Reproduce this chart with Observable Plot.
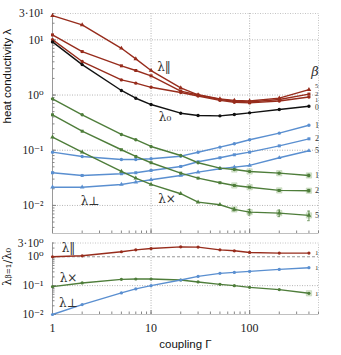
<!DOCTYPE html>
<html><head><meta charset="utf-8">
<script src="https://cdn.jsdelivr.net/npm/d3@7"></script>
<script src="https://cdn.jsdelivr.net/npm/@observablehq/plot@0.6"></script>
<style>
body{margin:0;background:#fff}
#chart{width:341px;height:355px;overflow:hidden}
#chart svg{display:block}
</style>
</head><body><div id="chart"></div>
<script>
// ---- data ----
const gamma = [1, 2, 5, 7, 10, 20, 30, 50, 70, 100, 200, 400];

const lambda0 = [9.18, 3.56, 1.21, 0.875, 0.673, 0.469, 0.426, 0.420, 0.444, 0.476, 0.547, 0.627];

const parB1 = [10.1, 4.04, 1.88, 1.64, 1.38, 1.11, 0.96, 0.80, 0.74, 0.72, 0.78, 0.92];
const parB2 = [12.3, 6.13, 3.38, 2.78, 2.23, 1.18, 1.00, 0.83, 0.77, 0.75, 0.83, 1.04];
const parB5 = [27.5, 18.7, 7.03, 4.52, 2.78, 1.35, 1.01, 0.85, 0.80, 0.78, 0.88, 1.25];

const perpB1 = [0.0922, 0.0771, 0.0680, 0.0680, 0.0700, 0.0780, 0.0920, 0.1136, 0.131, 0.1545, 0.204, 0.284];
const perpB2 = [0.0391, 0.0349, 0.0375, 0.0391, 0.0430, 0.0508, 0.0618, 0.0730, 0.0827, 0.0922, 0.120, 0.161];
const perpB5 = [0.0214, 0.0214, 0.0240, 0.0264, 0.0292, 0.0349, 0.0401, 0.0462, 0.0494, 0.0530, 0.0730, 0.0977];

const crossB1 = [0.853, 0.438, 0.193, 0.155, 0.117, 0.0804, 0.0593, 0.0473, 0.0448, 0.0412, 0.0384, 0.0349];
const crossB2 = [0.438, 0.221, 0.102, 0.0771, 0.0593, 0.0384, 0.0312, 0.0258, 0.0230, 0.0214, 0.0187, 0.0185];
const crossB5 = [0.172, 0.0922, 0.0412, 0.0312, 0.0240, 0.0163, 0.0115, 0.0103, 0.00847, 0.00757, 0.00726, 0.00659];

const crossErrB1 = [0, 0, 0, 0, 0, 0, 0, 0, 0, 0, 0.0012, 0.0018];
const crossErrB2 = [0, 0, 0, 0, 0, 0, 0, 0, 0, 0, 0.0007, 0.0010];
const crossErrB5 = [0, 0, 0, 0, 0, 0, 0, 0, 0.0005, 0.0009, 0.0010, 0.0013];

const ratioPar = [1.0, 1.08, 1.49, 1.74, 1.93, 2.21, 2.16, 1.74, 1.61, 1.41, 1.34, 1.34];
const ratioCross = [0.0924, 0.124, 0.165, 0.170, 0.170, 0.157, 0.134, 0.111, 0.100, 0.0874, 0.0728, 0.0543];
const ratioPerp = [0.0100, 0.0221, 0.0560, 0.0769, 0.100, 0.157, 0.209, 0.266, 0.288, 0.311, 0.365, 0.418];

const topTicks = [0.01, 0.1, 1, 10, 30];
const topTickLabels = ["10⁻²", "10⁻¹", "10⁰", "10¹", "3·10¹"];
const botTicks = [0.01, 0.1, 1, 3];
const botTickLabels = ["10⁻²", "10⁻¹", "10⁰", "3·10⁰"];
const xTicks = [1, 10, 100, 500];
const xTickLabels = ["1", "10", "100", "500"];

// ---- styling ----
const COLORS = {par: "#972c1c", zero: "#111111", cross: "#4e7d3a", perp: "#5a8fd0"};
const SERIF = "'Liberation Serif', 'DejaVu Serif', serif";
const MATH = "'DejaVu Serif', serif";
const SANS = "'Liberation Sans', Arial, sans-serif";
const GRID = "#b4b4b4";

const series = [
  {comp: "par", beta: "5", v: parB5},
  {comp: "par", beta: "2", v: parB2},
  {comp: "par", beta: "1", v: parB1},
  {comp: "zero", beta: "0", v: lambda0},
  {comp: "perp", beta: "1", v: perpB1},
  {comp: "perp", beta: "2", v: perpB2},
  {comp: "perp", beta: "5", v: perpB5},
  {comp: "cross", beta: "1", v: crossB1, err: crossErrB1},
  {comp: "cross", beta: "2", v: crossB2, err: crossErrB2},
  {comp: "cross", beta: "5", v: crossB5, err: crossErrB5}
];
const rows = series.flatMap(s => gamma.map((g, i) => ({
  gamma: g, value: s.v[i], comp: s.comp, beta: s.beta, key: s.comp + s.beta,
  err: s.err ? s.err[i] : 0, color: COLORS[s.comp]
})));
const lastRows = rows.filter(d => d.gamma === gamma[gamma.length - 1]);

const ratioSeries = [
  {comp: "par", v: ratioPar},
  {comp: "cross", v: ratioCross},
  {comp: "perp", v: ratioPerp}
];
const ratioRows = ratioSeries.flatMap(s => gamma.map((g, i) => ({
  gamma: g, value: s.v[i], comp: s.comp, color: COLORS[s.comp]
})));
const ratioLast = ratioRows.filter(d => d.gamma === gamma[gamma.length - 1]);

function logTicks(lo, hi, majorsOnly) {
  const out = [];
  for (let e = -4; e <= 3; e++) for (let m = 1; m < 10; m++) {
    if (majorsOnly && m !== 1) continue;
    const v = m * Math.pow(10, e);
    if (v >= lo * 0.999 && v <= hi * 1.001) out.push(+v.toPrecision(6));
  }
  return out;
}

const xDomain = [1, 500];
const topY = [0.0031, 30];
const botY = [0.01, 3];

function frameMarks(yDom, yGrid, dashedOne) {
  return [
    Plot.gridX([10, 100], {stroke: GRID, strokeOpacity: 1, strokeDasharray: "1,1.5"}),
    Plot.gridY(yGrid, {stroke: GRID, strokeOpacity: 1, strokeDasharray: "1,1.5"}),
    dashedOne ? Plot.ruleY([1], {stroke: "#8a8a8a", strokeDasharray: "3,2", strokeWidth: 0.9}) : null,
    Plot.frame({stroke: "#c4c4c4", strokeDasharray: "1,1.5"}),
    Plot.ruleX([xDomain[0]], {stroke: "#9a9a9a"}),
    Plot.ruleY([yDom[0]], {stroke: "#c0c0c0"}),
    Plot.axisY({ticks: logTicks(yDom[0], yDom[1], false), tickSize: -2.5, tickFormat: () => "", stroke: "#888", label: null}),
    Plot.axisY({ticks: logTicks(yDom[0], yDom[1], true), tickSize: -4, tickFormat: () => "", stroke: "#888", label: null}),
    Plot.axisX({ticks: logTicks(xDomain[0], xDomain[1], false), tickSize: -2.5, tickFormat: () => "", stroke: "#888", label: null}),
    Plot.axisX({ticks: logTicks(xDomain[0], xDomain[1], true), tickSize: -4, tickFormat: () => "", stroke: "#888", label: null})
  ].filter(Boolean);
}

function yTickLabels(ticks, labels) {
  return Plot.text(ticks, {y: d => d, frameAnchor: "left", dx: -9, textAnchor: "end",
    text: (d, i) => labels[i], fontFamily: SERIF, fontSize: 11.5, fill: "#222"});
}

const lab = (text, extra) => ({text: () => text, fontFamily: MATH, fontSize: 12, fill: "#333", ...extra});
const small = (extra) => ({x: "gamma", y: "value", text: "beta", dx: 6, textAnchor: "start", fontFamily: SERIF, fontSize: 6.5, fill: "#333", ...extra});

// ---- top panel ----
const crossBoxes = rows.filter(d => d.comp === "cross" && d.gamma >= 70);
const errRows = rows.filter(d => d.err > 0);
const betaLabelRows = lastRows.filter(d => d.comp === "perp" || d.comp === "cross");
const pick = (comp, beta) => lastRows.filter(d => d.comp === comp && d.beta === beta);

const topPlot = Plot.plot({
  width: 341, height: 236,
  marginLeft: 52, marginRight: 23, marginTop: 13, marginBottom: 3,
  style: {background: "#fff", overflow: "visible"},
  x: {type: "log", domain: xDomain, label: null},
  y: {type: "log", domain: topY, label: null},
  color: {type: "identity"},
  symbol: {domain: ["0", "1", "2", "5"], range: ["circle", "circle", "square", "triangle"]},
  marks: [
    ...frameMarks(topY, [0.01, 0.1, 1, 10], false),
    yTickLabels(topTicks, topTickLabels),
    Plot.text(["heat conductivity λ"], {frameAnchor: "left", rotate: -90, dx: -45, text: d => d,
      fontFamily: SANS, fontSize: 11.5, fill: "#111"}),
    Plot.dot(crossBoxes, {x: "gamma", y: "value", symbol: "square", r: 3.0, fill: "#d9e7d0", stroke: "#b3cba6", strokeWidth: 0.5}),
    Plot.ruleX(errRows, {x: "gamma", y1: d => d.value - d.err, y2: d => d.value + d.err, stroke: COLORS.cross, strokeWidth: 0.8}),
    Plot.ruleY(errRows, {y: d => d.value - d.err, x1: d => d.gamma / 1.03, x2: d => d.gamma * 1.03, stroke: COLORS.cross, strokeWidth: 0.8}),
    Plot.ruleY(errRows, {y: d => d.value + d.err, x1: d => d.gamma / 1.03, x2: d => d.gamma * 1.03, stroke: COLORS.cross, strokeWidth: 0.8}),
    Plot.line(rows, {x: "gamma", y: "value", z: "key", stroke: "color", strokeWidth: 1.4}),
    Plot.dot(rows, {x: "gamma", y: "value", symbol: "beta", fill: "color", r: 1.7}),
    Plot.text(betaLabelRows, small({fontSize: 8})),
    Plot.text(pick("par", "5"), small({dy: -3.5})),
    Plot.text(pick("par", "2"), small({dy: -0.5})),
    Plot.text(pick("par", "1"), small({dy: 3})),
    Plot.text(pick("zero", "0"), small({dy: 1.5, fontSize: 7.5})),
    Plot.text([{g: 10, v: parB5[4]}], {x: "g", y: "v", ...lab("λ‖", {dx: 13, dy: -3})}),
    Plot.text([{g: 10, v: lambda0[4]}], {x: "g", y: "v", ...lab("λ₀", {dx: 14, dy: 13})}),
    Plot.text([{g: 2, v: perpB5[1]}], {x: "g", y: "v", ...lab("λ⊥", {dx: 8, dy: 14})}),
    Plot.text([{g: 10, v: crossB5[4]}], {x: "g", y: "v", ...lab("λ×", {dx: 16, dy: 15})}),
    Plot.text([{g: 400, v: parB5[11]}], {x: "g", y: "v", ...lab("β", {dx: 6, dy: -18, fontStyle: "italic", fontSize: 13})})
  ]
});

// ---- bottom panel ----
const bottomPlot = Plot.plot({
  width: 341, height: 119,
  marginLeft: 52, marginRight: 23, marginTop: 6.5, marginBottom: 41,
  style: {background: "#fff", overflow: "visible"},
  x: {type: "log", domain: xDomain, label: null},
  y: {type: "log", domain: botY, label: null},
  color: {type: "identity"},
  marks: [
    ...frameMarks(botY, [0.1], true),
    yTickLabels(botTicks, botTickLabels),
    Plot.axisX({ticks: xTicks, tickSize: 0, tickPadding: 9, tickFormat: d => xTickLabels[xTicks.indexOf(d)],
      fontFamily: SERIF, fontSize: 12, fill: "#222", label: null}),
    Plot.text(["λᵦ₌₁/λ₀"], {frameAnchor: "left", rotate: -90, dx: -45, dy: 7, text: d => d,
      fontFamily: MATH, fontSize: 11.5, fill: "#111"}),
    Plot.text(["coupling Γ"], {frameAnchor: "bottom", dy: 33, text: d => d,
      fontFamily: SANS, fontSize: 11.5, fill: "#111"}),
    Plot.dot(ratioLast.filter(d => d.comp === "cross"), {x: "gamma", y: "value", symbol: "square", r: 3.0, fill: "#d9e7d0", stroke: "#b3cba6", strokeWidth: 0.5}),
    Plot.line(ratioRows, {x: "gamma", y: "value", z: "comp", stroke: "color", strokeWidth: 1.4}),
    Plot.dot(ratioRows, {x: "gamma", y: "value", fill: "color", r: 1.6}),
    Plot.text(ratioLast, {x: "gamma", y: "value", text: () => "1", dx: 6, textAnchor: "start", fontFamily: SERIF, fontSize: 7, fill: "#333"}),
    Plot.text([{g: 1, v: ratioPar[0]}], {x: "g", y: "v", ...lab("λ‖", {dx: 16, dy: -9})}),
    Plot.text([{g: 1, v: ratioCross[0]}], {x: "g", y: "v", ...lab("λ×", {dx: 16, dy: -8})}),
    Plot.text([{g: 1, v: ratioPerp[0]}], {x: "g", y: "v", ...lab("λ⊥", {dx: 16, dy: -11})})
  ]
});

const chart = document.getElementById("chart");
chart.appendChild(topPlot);
chart.appendChild(bottomPlot);
</script>
</body></html>
